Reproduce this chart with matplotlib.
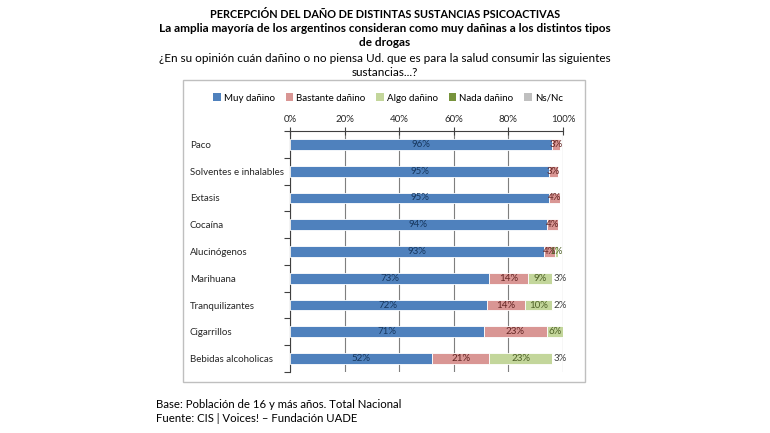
import matplotlib
matplotlib.use('Agg')
import matplotlib.pyplot as plt
import numpy as np
from matplotlib.patches import Rectangle, Patch

plt.rcParams['font.family'] = ['Lato', 'DejaVu Sans']

categories = ['Paco', 'Solventes e inhalables', 'Extasis', 'Cocaína', 'Alucinógenos',
              'Marihuana', 'Tranquilizantes', 'Cigarrillos', 'Bebidas alcoholicas']
muy = [96, 95, 95, 94, 93, 73, 72, 71, 52]
bastante = [3, 3, 4, 4, 4, 14, 14, 23, 21]
algo = [0, 0, 0, 0, 1, 9, 10, 6, 23]
nada = [0, 0, 0, 0, 0, 0, 0, 0, 0]
nsnc = [0, 0, 0, 0, 0, 3, 2, 0, 3]

series_names = ['Muy dañino', 'Bastante dañino', 'Algo dañino', 'Nada dañino', 'Ns/Nc']
series_vals = [muy, bastante, algo, nada, nsnc]
colors = ['#4F81BD', '#D99694', '#C3D69B', '#77933C', '#BFBFBF']
label_colors = ['#17375E', '#632523', '#4F6228', '#334016', '#404040']
xticks = [0, 20, 40, 60, 80, 100]

fig = plt.figure(figsize=(7.7, 4.33), dpi=100)

# chart frame
fig.patches.append(Rectangle((183 / 770, 1 - 382 / 433), (585 - 183) / 770, (382 - 80) / 433,
                             transform=fig.transFigure, fill=False, edgecolor='#BFBFBF', lw=1.0))

ax = fig.add_axes([290 / 770, 1 - 372 / 433, (563 - 290) / 770, (372 - 131) / 433])

y = np.arange(len(categories))
left = np.zeros(len(categories))
for i, (name, vals) in enumerate(zip(series_names, series_vals)):
    vals = np.array(vals, dtype=float)
    if name == 'Ns/Nc':
        # Ns/Nc shown only as a label beside the bar
        for j, v in enumerate(vals):
            if v > 0:
                ax.text(left[j] + 0.6, j, f'{int(v)}%', ha='left', va='center',
                        fontsize=7, color=label_colors[i])
    else:
        ax.barh(y, vals, left=left, height=0.4, color=colors[i], edgecolor='white', lw=0.6, zorder=3)
        for j, v in enumerate(vals):
            if v > 0:
                ax.text(left[j] + v / 2, j, f'{int(v)}%', ha='center', va='center',
                        fontsize=7, color=label_colors[i], zorder=4)
    left += vals

ax.set_xlim(0, 100)
ax.set_ylim(len(categories) - 0.5, -0.5)
ax.xaxis.tick_top()
ax.set_xticks(xticks)
ax.set_xticklabels([f'{t}%' for t in xticks], fontsize=7, color='#262626')
ax.tick_params(axis='x', direction='inout', length=6, width=0.8, color='#404040', pad=2)
ax.grid(axis='x', color='#7F7F7F', lw=0.8, zorder=0)

ax.set_yticks(y)
ax.set_yticklabels(categories, fontsize=7, color='#262626', ha='left')
ax.tick_params(axis='y', which='major', length=0, pad=72)
ax.set_yticks(np.arange(len(categories) + 1) - 0.5, minor=True)
ax.tick_params(axis='y', which='minor', length=4, width=0.8, color='#404040')

for s in ['right', 'bottom']:
    ax.spines[s].set_visible(False)
ax.spines['top'].set_color('#404040')
ax.spines['left'].set_color('#404040')
ax.spines['top'].set_linewidth(0.8)
ax.spines['left'].set_linewidth(0.8)

handles = [Patch(facecolor=c, edgecolor='none') for c in colors]
fig.legend(handles, series_names, loc='center', bbox_to_anchor=(388 / 770, 1 - 98 / 433),
           ncol=5, frameon=False, fontsize=7, handlelength=0.8, handleheight=0.8,
           handletextpad=0.3, columnspacing=1.1)

fig.text(0.5, 1 - 15 / 433, 'PERCEPCIÓN DEL DAÑO DE DISTINTAS SUSTANCIAS PSICOACTIVAS',
         ha='center', va='center', fontsize=7.8, fontweight='bold')
fig.text(0.5, 1 - 29 / 433, 'La amplia mayoría de los argentinos consideran como muy dañinas a los distintos tipos',
         ha='center', va='center', fontsize=8.5, fontweight='bold')
fig.text(0.5, 1 - 43 / 433, 'de drogas', ha='center', va='center', fontsize=8.5, fontweight='bold')
fig.text(0.5, 1 - 58 / 433, '¿En su opinión cuán dañino o no piensa Ud. que es para la salud consumir las siguientes',
         ha='center', va='center', fontsize=8.5)
fig.text(0.5, 1 - 72 / 433, 'sustancias...?', ha='center', va='center', fontsize=8.5)

fig.text(156 / 770, 1 - 404 / 433, 'Base: Población de 16 y más años. Total Nacional',
         ha='left', va='center', fontsize=8.2)
fig.text(156 / 770, 1 - 419 / 433, 'Fuente: CIS | Voices! – Fundación UADE',
         ha='left', va='center', fontsize=8.2)

fig.savefig('out.png', dpi=100)
